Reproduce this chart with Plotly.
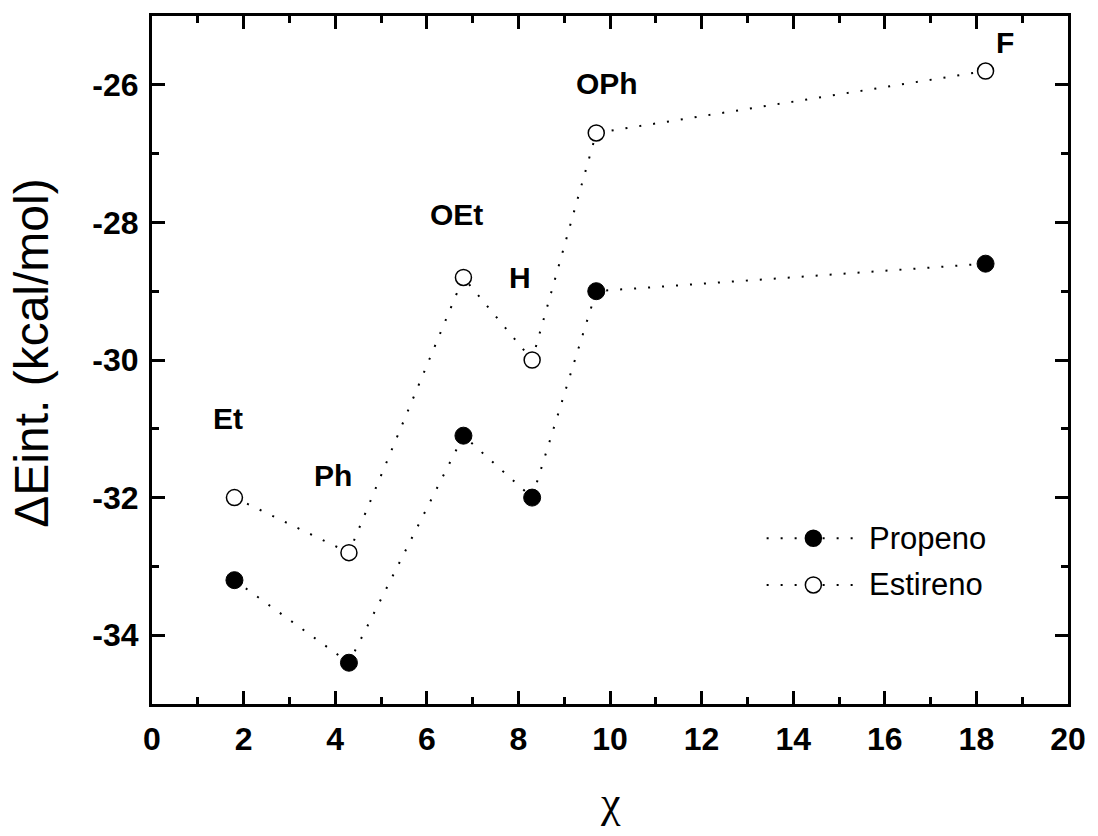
import plotly.graph_objects as go

# Electronegativity-like parameter of each substituent
chi = [1.8, 4.3, 6.8, 8.3, 9.7, 18.2]
# Interaction energies (kcal/mol)
propeno = [-33.2, -34.4, -31.1, -32.0, -29.0, -28.6]
estireno = [-32.0, -32.8, -28.8, -30.0, -26.7, -25.8]
grupos = ["Et", "Ph", "OEt", "H", "OPh", "F"]

# y tick values and their labels (plain hyphen as minus sign)
y_tickvals = [-34, -32, -30, -28, -26]
y_ticktext = ["-34", "-32", "-30", "-28", "-26"]

# pixel offsets of each group label relative to its Estireno point
label_shift = [(-6, 79), (-16, 77), (-7, 63), (-12, 83), (11, 49), (19, 29)]

FONT = "Arial, Liberation Sans, sans-serif"
DOT = "2px,12px"

fig = go.Figure()

fig.add_trace(go.Scatter(
    x=chi, y=propeno, mode="lines+markers", name="Propeno",
    line=dict(color="black", width=2, dash=DOT),
    marker=dict(symbol="circle", size=17, color="black",
                line=dict(color="black", width=1)),
    showlegend=False,
))
fig.add_trace(go.Scatter(
    x=chi, y=estireno, mode="lines+markers", name="Estireno",
    line=dict(color="black", width=2, dash=DOT),
    marker=dict(symbol="circle", size=16, color="white",
                line=dict(color="black", width=1.5)),
    showlegend=False,
))

annotations = []
for g, xv, yv, (dx, dy) in zip(grupos, chi, estireno, label_shift):
    annotations.append(dict(
        x=xv, y=yv, xref="x", yref="y", text=g, showarrow=False,
        xshift=dx, yshift=dy,
        font=dict(family=FONT, size=30, color="black", weight="bold"),
    ))

# axis titles
annotations.append(dict(
    x=-0.1325, y=0.51, xref="paper", yref="paper", text="ΔEint. (kcal/mol)",
    textangle=-90, showarrow=False, xanchor="center", yanchor="middle",
    font=dict(family=FONT, size=48, color="black"),
))
annotations.append(dict(
    x=0.5, y=-0.143, xref="paper", yref="paper", text="χ",
    showarrow=False, xanchor="center", yanchor="middle",
    font=dict(family="Liberation Serif, Times New Roman, serif", size=44, color="black"),
))

# hand-built legend: dotted sample line, marker, name
shapes = []
legend_rows = [("Propeno", "black", 0.241), ("Estireno", "white", 0.173)]
for name, fill, yp in legend_rows:
    shapes.append(dict(type="line", xref="paper", yref="paper",
                       x0=0.671, x1=0.767, y0=yp, y1=yp,
                       line=dict(color="black", width=2, dash=DOT)))
    shapes.append(dict(type="circle", xref="paper", yref="paper",
                       xsizemode="pixel", ysizemode="pixel",
                       xanchor=0.722, yanchor=yp,
                       x0=-8, x1=8, y0=-8, y1=8,
                       fillcolor=fill, line=dict(color="black", width=1.5)))
    annotations.append(dict(
        x=0.781, y=yp, xref="paper", yref="paper", text=name,
        showarrow=False, xanchor="left", yanchor="middle",
        font=dict(family=FONT, size=31, color="black"),
    ))

axis_common = dict(
    showline=True, linewidth=3, linecolor="black", mirror="ticks",
    ticks="inside", ticklen=13, tickwidth=3, tickcolor="black",
    showgrid=False, zeroline=False,
    tickfont=dict(family=FONT, size=32, color="black", weight="bold"),
    minor=dict(ticks="inside", ticklen=7, tickwidth=3, tickcolor="black",
               dtick=1, showgrid=False),
)

fig.update_layout(
    width=1098, height=836,
    margin=dict(l=152, r=20, t=16, b=132),
    paper_bgcolor="white", plot_bgcolor="white",
    showlegend=False,
    xaxis=dict(range=[0, 20], dtick=2, tick0=0, ticklabelstandoff=5, **axis_common),
    yaxis=dict(range=[-35, -25], tickmode="array", tickvals=y_tickvals,
               ticktext=y_ticktext, ticklabelstandoff=4, **axis_common),
    annotations=annotations,
    shapes=shapes,
)
fig.update_yaxes(minor=dict(tickmode="linear", tick0=-35, dtick=1))

fig.write_html("out.html")
